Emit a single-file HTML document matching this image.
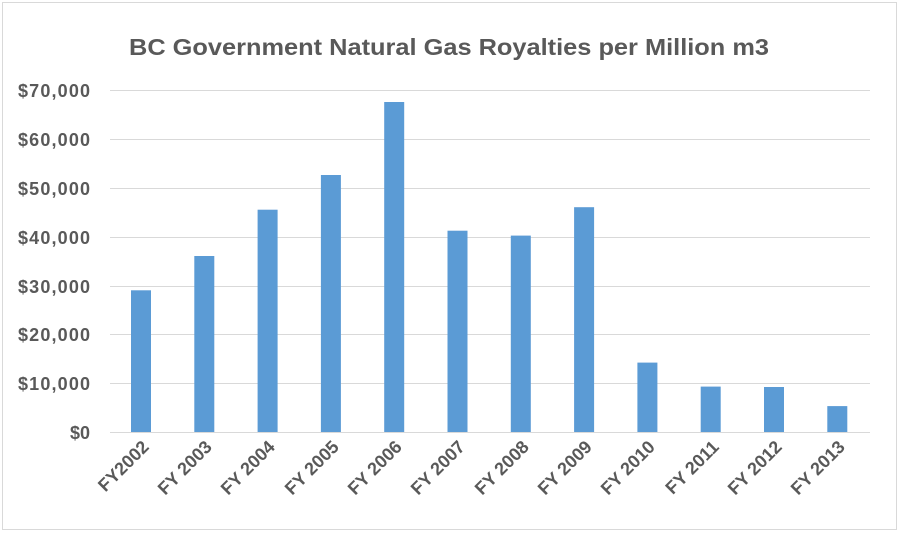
<!DOCTYPE html>
<html><head><style>body{margin:0;background:#fff}svg{display:block}</style></head>
<body>
<svg width="903" height="535" xmlns="http://www.w3.org/2000/svg" font-family="Liberation Sans, sans-serif">
<rect x="2.5" y="2.5" width="894" height="527" fill="#fff" stroke="#d9d9d9"/>
<text x="449" y="55" text-anchor="middle" font-size="23" font-weight="bold" fill="#595959" textLength="640" lengthAdjust="spacingAndGlyphs">BC Government Natural Gas Royalties per Million m3</text>
<g stroke="#d9d9d9" stroke-width="1">
<line x1="110" x2="870" y1="90.5" y2="90.5"/><line x1="110" x2="870" y1="139.5" y2="139.5"/>
<line x1="110" x2="870" y1="188.5" y2="188.5"/><line x1="110" x2="870" y1="237.5" y2="237.5"/>
<line x1="110" x2="870" y1="286.5" y2="286.5"/><line x1="110" x2="870" y1="334.5" y2="334.5"/>
<line x1="110" x2="870" y1="383.5" y2="383.5"/><line x1="110" x2="870" y1="432.5" y2="432.5"/>
</g>
<g font-size="18" fill="#595959" text-anchor="end" font-weight="bold">
<text x="90" y="97" textLength="72">$70,000</text><text x="90" y="146" textLength="72">$60,000</text><text x="90" y="195" textLength="72">$50,000</text>
<text x="90" y="244" textLength="72">$40,000</text><text x="90" y="293" textLength="72">$30,000</text><text x="90" y="341" textLength="72">$20,000</text>
<text x="90" y="390" textLength="72">$10,000</text><text x="90" y="439">$0</text>
</g>
<g fill="#5b9bd5">
<rect x="131" y="290.3" width="20" height="141.7"/>
<rect x="194.3" y="256" width="20" height="176"/>
<rect x="257.6" y="209.7" width="20" height="222.3"/>
<rect x="320.9" y="175" width="20" height="257"/>
<rect x="384.2" y="102" width="20" height="330"/>
<rect x="447.5" y="230.7" width="20" height="201.3"/>
<rect x="510.8" y="235.6" width="20" height="196.4"/>
<rect x="574.1" y="207.2" width="20" height="224.8"/>
<rect x="637.4" y="362.6" width="20" height="69.4"/>
<rect x="700.7" y="386.6" width="20" height="45.4"/>
<rect x="764" y="387" width="20" height="45"/>
<rect x="827.3" y="406.1" width="20" height="25.9"/>
</g>
<g font-size="18" fill="#595959" text-anchor="end" font-weight="bold">
<text transform="translate(150,448) rotate(-45)">FY2002</text>
<text transform="translate(213,448) rotate(-45)">FY 2003</text>
<text transform="translate(276,448) rotate(-45)">FY 2004</text>
<text transform="translate(340,448) rotate(-45)">FY 2005</text>
<text transform="translate(403,448) rotate(-45)">FY 2006</text>
<text transform="translate(466,448) rotate(-45)">FY 2007</text>
<text transform="translate(530,448) rotate(-45)">FY 2008</text>
<text transform="translate(593,448) rotate(-45)">FY 2009</text>
<text transform="translate(656,448) rotate(-45)">FY 2010</text>
<text transform="translate(720,448) rotate(-45)">FY 2011</text>
<text transform="translate(783,448) rotate(-45)">FY 2012</text>
<text transform="translate(846,448) rotate(-45)">FY 2013</text>
</g>
</svg>
</body></html>
